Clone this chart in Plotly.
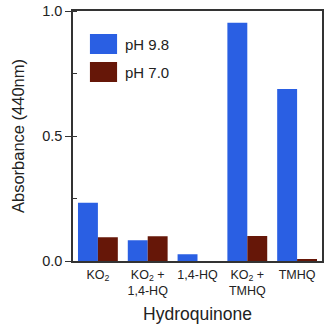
import plotly.graph_objects as go

categories = ["KO<sub>2</sub>", "KO<sub>2</sub> +<br>1,4-HQ", "1,4-HQ", "KO<sub>2</sub> +<br>TMHQ", "TMHQ"]
ph98 = [0.233, 0.083, 0.027, 0.953, 0.688]
ph70 = [0.095, 0.099, 0.0, 0.100, 0.008]
series_names = ["pH 9.8", "pH 7.0"]
colors = ["#2a5fe3", "#661708"]

fig = go.Figure()
fig.add_trace(go.Bar(x=categories, y=ph98, name=series_names[0], marker=dict(color=colors[0], line=dict(width=0))))
fig.add_trace(go.Bar(x=categories, y=ph70, name=series_names[1], marker=dict(color=colors[1], line=dict(width=0))))

# custom legend (larger swatches like the reference)
leg_y = [(0.908, 0.828), (0.796, 0.716)]
for (y1, y0), name, col in zip(leg_y, series_names, colors):
    fig.add_shape(type="rect", xref="paper", yref="paper", x0=0.068, x1=0.177, y0=y0, y1=y1,
                  fillcolor=col, line=dict(width=0))
    fig.add_annotation(xref="paper", yref="paper", x=0.2, y=(y0 + y1) / 2, text=name,
                       showarrow=False, xanchor="left", yanchor="middle",
                       font=dict(size=15, color="#222"))

fig.update_layout(
    width=332, height=329,
    margin=dict(l=73, r=10, t=11, b=68),
    paper_bgcolor="white", plot_bgcolor="white",
    barmode="group", bargap=0.2, bargroupgap=0,
    font=dict(family="Liberation Sans, Arial, sans-serif", color="#222"),
    showlegend=False,
    xaxis=dict(
        automargin=False,
        showline=True, linecolor="#333", linewidth=1.5, mirror=True,
        ticks="outside", ticklen=1, tickcolor="rgba(0,0,0,0)", tickfont=dict(size=12.5),
        title=dict(text="Hydroquinone", font=dict(size=17.5), standoff=11),
    ),
    yaxis=dict(
        automargin=False,
        range=[0, 1.0], dtick=0.5, tickformat=".1f",
        showline=True, linecolor="#333", linewidth=1.5, mirror=True,
        ticks="outside", ticklen=6, tickcolor="#333", tickwidth=1.3,
        minor=dict(dtick=0.25, ticks="inside", ticklen=4, tickcolor="#333", tickwidth=1.3),
        showgrid=False, zeroline=False,
        tickfont=dict(size=14.5),
        title=dict(text="Absorbance (440nm)", font=dict(size=16.5), standoff=13),
    ),
)

fig.write_html("out.html")
